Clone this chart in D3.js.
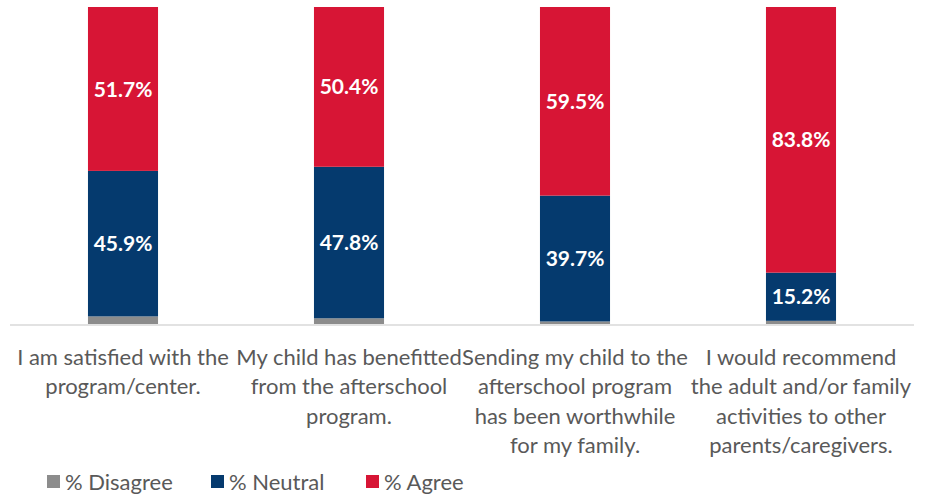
<!DOCTYPE html>
<html>
<head>
<meta charset="utf-8">
<script src="https://cdn.jsdelivr.net/npm/d3@7"></script>
<style>
  html, body { margin: 0; padding: 0; background: #fff; }
  svg { display: block; font-family: Lato, "Open Sans", sans-serif; }
</style>
</head>
<body>
<svg id="chart" width="933" height="495"></svg>
<script>
// Survey statements (wrapped lines) and response shares in percent
const categories = [
  ["I am satisfied with the", "program/center."],
  ["My child has benefitted", "from the afterschool", "program."],
  ["Sending my child to the", "afterschool program", "has been worthwhile", "for my family."],
  ["I would recommend", "the adult and/or family", "activities to other", "parents/caregivers."]
];
const disagree = [2.4, 1.8, 0.8, 1.0];
const neutral  = [45.9, 47.8, 39.7, 15.2];
const agree    = [51.7, 50.4, 59.5, 83.8];

const seriesNames  = ["% Disagree", "% Neutral", "% Agree"];
const seriesColors = ["#8c8c8c", "#053a6e", "#d71535"];

const svg = d3.select("#chart");
const margin = { left: 10, right: 19, top: 7, bottom: 170 };
const width = 933, height = 495;

const rows = categories.map((c, i) => ({
  key: i, label: c,
  "% Disagree": disagree[i], "% Neutral": neutral[i], "% Agree": agree[i]
}));

const x = d3.scaleBand()
  .domain(rows.map(d => d.key))
  .range([margin.left, width - margin.right])
  .paddingInner(0.69)
  .paddingOuter(0.345);

const y = d3.scaleLinear()
  .domain([0, 100])
  .range([324, margin.top]);

const stack = d3.stack().keys(seriesNames);
const layers = stack(rows);
const color = d3.scaleOrdinal().domain(seriesNames).range(seriesColors);

// Baseline
svg.append("line")
  .attr("x1", margin.left).attr("x2", width - margin.right)
  .attr("y1", 325).attr("y2", 325)
  .attr("stroke", "#d9d9d9").attr("stroke-width", 1.5);

// Stacked segments
const g = svg.append("g");
layers.forEach(layer => {
  g.selectAll(null)
    .data(layer)
    .join("rect")
    .attr("x", d => x(d.data.key))
    .attr("width", x.bandwidth())
    .attr("y", d => y(d[1]))
    .attr("height", d => y(d[0]) - y(d[1]))
    .attr("fill", color(layer.key));
});

// Value labels (Neutral and Agree)
layers.filter(l => l.key !== "% Disagree").forEach(layer => {
  g.selectAll(null)
    .data(layer)
    .join("text")
    .attr("x", d => x(d.data.key) + x.bandwidth() / 2)
    .attr("y", d => (y(d[0]) + y(d[1])) / 2)
    .attr("dy", "0.36em")
    .attr("text-anchor", "middle")
    .attr("fill", "#ffffff")
    .attr("font-weight", "bold")
    .attr("font-size", 21)
    .text(d => (d[1] - d[0]).toFixed(1) + "%");
});

// Category labels
const catG = svg.append("g");
rows.forEach(r => {
  const t = catG.append("text")
    .attr("x", x(r.key) + x.bandwidth() / 2)
    .attr("y", 365)
    .attr("text-anchor", "middle")
    .attr("fill", "#595959")
    .attr("font-size", 22);
  r.label.forEach((line, i) => {
    t.append("tspan")
      .attr("x", x(r.key) + x.bandwidth() / 2)
      .attr("dy", i === 0 ? 0 : 29.3)
      .text(line);
  });
});

// Legend
const legendX = [47, 211, 366];
const leg = svg.append("g");
seriesNames.forEach((name, i) => {
  leg.append("rect")
    .attr("x", legendX[i]).attr("y", 475)
    .attr("width", 13).attr("height", 13)
    .attr("fill", color(name));
  leg.append("text")
    .attr("x", legendX[i] + 18).attr("y", 482)
    .attr("dy", "0.36em")
    .attr("fill", "#595959")
    .attr("font-size", 22)
    .text(name);
});
</script>
</body>
</html>
